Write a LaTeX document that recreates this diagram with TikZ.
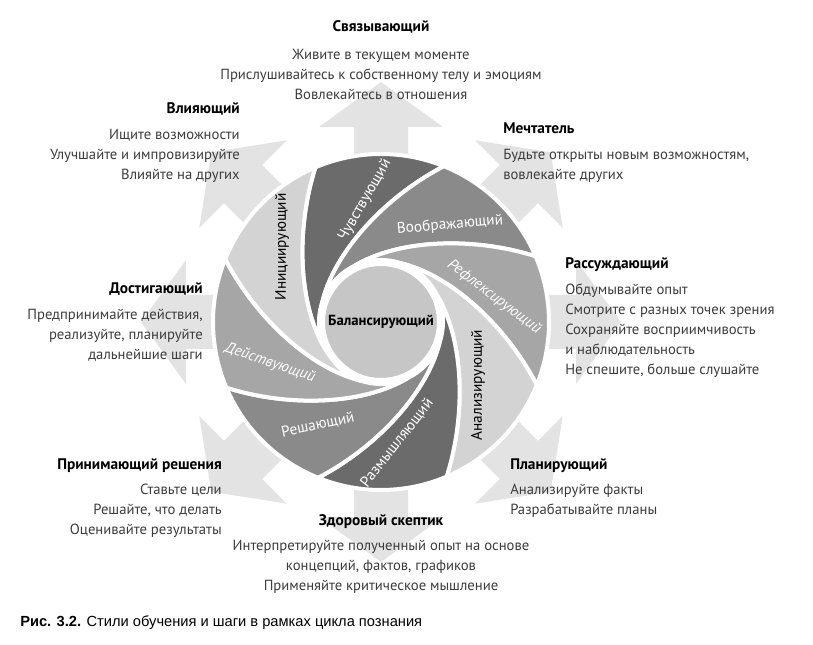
\documentclass[tikz,border=0pt]{standalone}
\usepackage{fontspec}
\setmainfont{PT Sans}
\newfontfamily\captionfont{Liberation Sans}
\usepackage{tikz}
\usetikzlibrary{positioning}

\definecolor{stargray}{HTML}{E3E3E3}
\definecolor{darkblade}{HTML}{6B6B6B}
\definecolor{midblade}{HTML}{8A8A8A}
\definecolor{paleblade}{HTML}{A6A6A6}
\definecolor{lightblade}{HTML}{D3D3D3}
\definecolor{hubgray}{HTML}{C6C6C6}
\definecolor{advicegray}{HTML}{3C3C3C}

\newcommand{\blade}[2]{%
  \fill[#2, draw=white, line width=3pt, line join=round]
    (#1:168) arc[start angle=#1, end angle=#1+45, radius=168]
    .. controls (#1+70:120) and (#1+120:82) .. (#1+165:62)
    arc[start angle=#1+165, end angle=#1+120, radius=62]
    .. controls (#1+75:82) and (#1+25:120) .. (#1:168) -- cycle;}

\begin{document}
\begin{tikzpicture}[x=0.75pt, y=0.75pt,
    heading/.style={font=\bfseries\fontsize{11.5}{14}\selectfont, text=black, inner sep=0pt},
    advice/.style={font=\fontsize{11}{15}\selectfont, text=advicegray, inner sep=0pt},
    bladetext/.style={font=\fontsize{11.5}{13}\selectfont, inner sep=0pt},
    hub/.style={circle, fill=hubgray, draw=white, line width=3pt, minimum size=87pt,
        inner sep=0pt, font=\bfseries\fontsize{11}{13}\selectfont}]
        \useasboundingbox (-381,322) rectangle (432,-323);

        \foreach \a in {0,45,...,315}
            \fill[stargray, rotate=\a] (0,-27) -- (195,-27) -- (195,-62) -- (240,0)
            -- (195,62) -- (195,27) -- (0,27) -- cycle;

        \blade{68}{darkblade}
        \blade{23}{midblade}
        \blade{-22}{paleblade}
        \blade{-67}{lightblade}
        \blade{-112}{darkblade}
        \blade{-157}{midblade}
        \blade{158}{paleblade}
        \blade{113}{lightblade}

        \node[hub] (balancing) at (0,0) {Балансирующий};

        \node[bladetext, text=white, rotate=60] (feeling) at (-16,122) {Чувствующий};
        \node[bladetext, text=white, rotate=5] (imagining) at (69,97) {Воображающий};
        \node[bladetext, text=white, rotate=-37, font=\itshape\fontsize{11.5}{13}\selectfont]
            (reflecting) at (113,25) {Рефлексирующий};
        \node[bladetext, text=black, rotate=90] (analyzing) at (97,-63) {Анализирующий};
        \node[bladetext, text=white, rotate=52] (thinking) at (16,-121) {Размышляющий};
        \node[bladetext, text=white, rotate=12] (deciding) at (-63,-103) {Решающий};
        \node[bladetext, text=white, rotate=-19, font=\itshape\fontsize{11.5}{13}\selectfont]
            (acting) at (-111,-41) {Действующий};
        \node[bladetext, text=black, rotate=90] (initiating) at (-99,75) {Инициирующий};

        \node[heading, anchor=base] (connecting) at (0,290) {Связывающий};
        \node[advice, align=center, below=13pt of connecting.base] (connectingtext)
            {Живите в текущем моменте\\Прислушивайтесь к собственному телу и эмоциям\\
            Вовлекайтесь в отношения};

        \node[heading, anchor=base east] (influencing) at (-141,208) {Влияющий};
        \node[advice, align=right, below left=11pt and 0pt of influencing.base east]
            (influencingtext) {Ищите возможности\\Улучшайте и импровизируйте\\Влияйте на других};

        \node[heading, anchor=base west] (dreamer) at (122,188) {Мечтатель};
        \node[advice, align=left, below right=11pt and 0pt of dreamer.base west]
            (dreamertext) {Будьте открыты новым возможностям,\\вовлекайте других};

        \node[heading, anchor=base east] (achieving) at (-178,28) {Достигающий};
        \node[advice, align=right, below left=11pt and 0pt of achieving.base east]
            (achievingtext) {Предпринимайте действия,\\реализуйте, планируйте\\дальнейшие шаги};

        \node[heading, anchor=base west] (reasoning) at (184,53) {Рассуждающий};
        \node[advice, align=left, below right=11pt and 0pt of reasoning.base west]
            (reasoningtext) {Обдумывайте опыт\\Смотрите с разных точек зрения\\
            Сохраняйте восприимчивость\\и наблюдательность\\Не спешите, больше слушайте};

        \node[heading, anchor=base east] (decisionmaker) at (-159,-147) {Принимающий решения};
        \node[advice, align=right, below left=11pt and 0pt of decisionmaker.base east]
            (decisionmakertext) {Ставьте цели\\Решайте, что делать\\Оценивайте результаты};

        \node[heading, anchor=base west] (planning) at (129,-147) {Планирующий};
        \node[advice, align=left, below right=11pt and 0pt of planning.base west]
            (planningtext) {Анализируйте факты\\Разрабатывайте планы};

        \node[heading, anchor=base] (skeptic) at (0,-203) {Здоровый скептик};
        \node[advice, align=center, below=11pt of skeptic.base] (skeptictext)
            {Интерпретируйте полученный опыт на основе\\концепций, фактов, графиков\\
            Применяйте критическое мышление};

        \node[anchor=base west, inner sep=0pt, font=\captionfont\fontsize{11}{13}\selectfont]
            (caption) at (-361,-304) {\textbf{Рис. 3.2.} Стили обучения и шаги в рамках цикла познания};
    \end{tikzpicture}
\end{document}
